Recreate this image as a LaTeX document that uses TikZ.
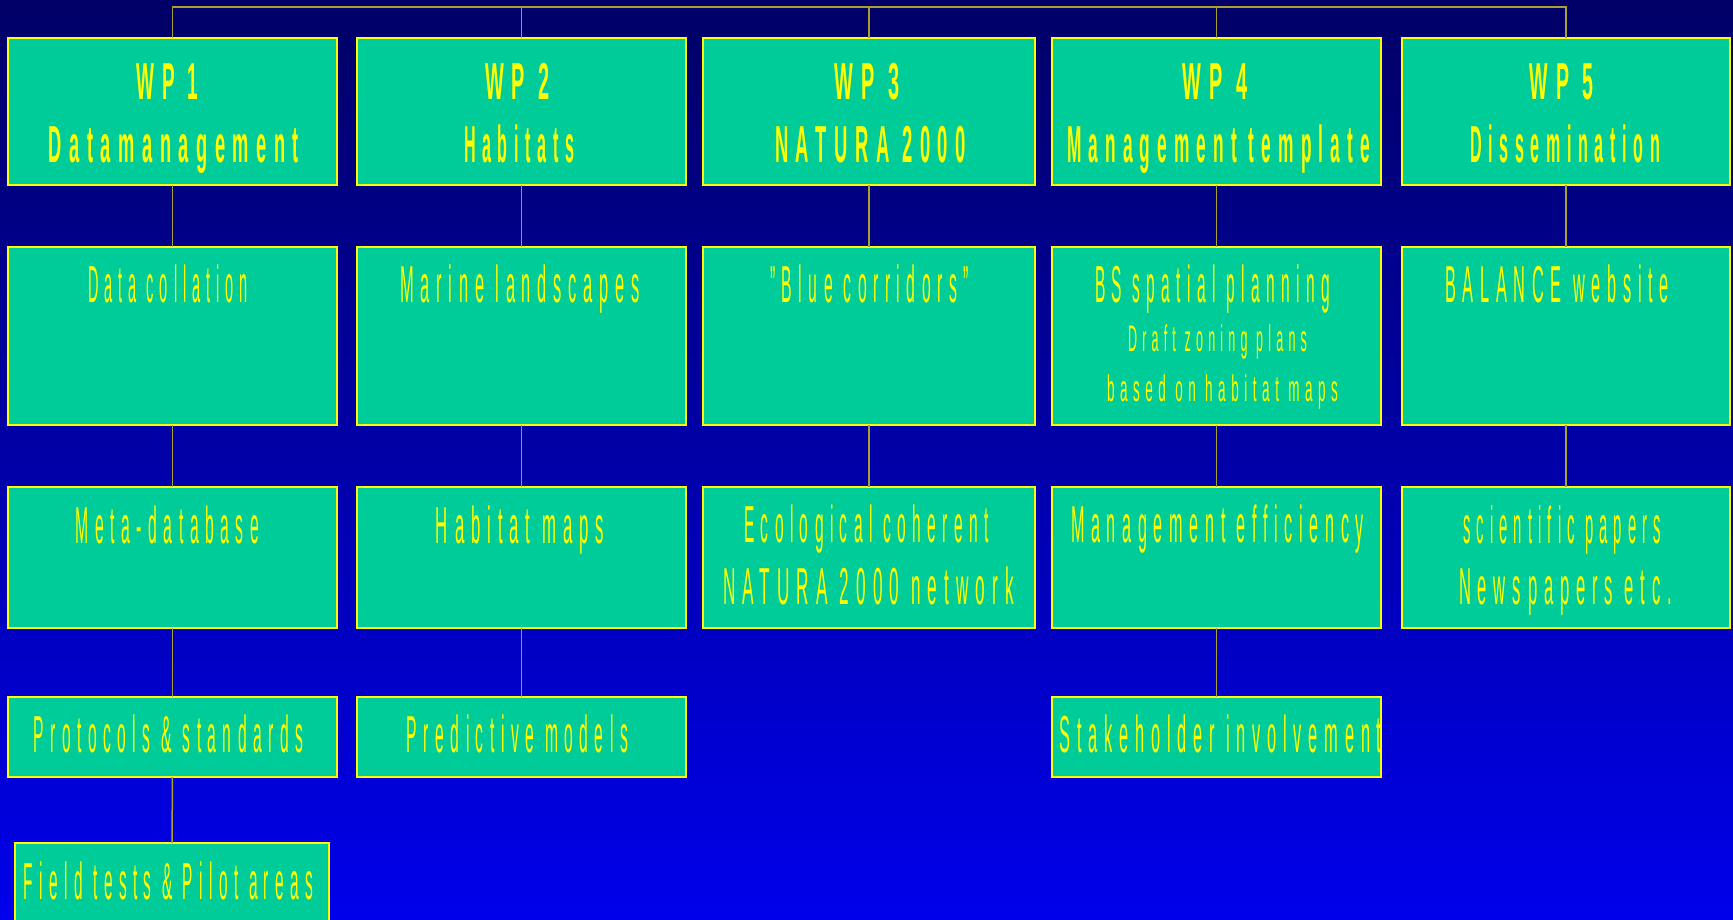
\documentclass[tikz,border=0pt]{standalone}
\usepackage{fontspec}
\usepackage{graphicx}
\setmainfont{Liberation Sans}[FakeStretch=0.34,LetterSpace=14]
\definecolor{boxfill}{RGB}{0,204,153}
\definecolor{txt}{RGB}{255,255,0}
\definecolor{conn}{RGB}{170,160,50}
\definecolor{bgtop}{RGB}{0,0,102}
\definecolor{bgbot}{RGB}{0,0,235}
\newcommand\fitw[2]{\resizebox{#1pt}{\height}{#2}}
\begin{document}
\begin{tikzpicture}[x=1pt,y=-1pt,
  wpbox/.style={draw=txt, line width=1.5pt, fill=boxfill, rectangle, inner sep=0pt, outer sep=0pt},
  link/.style={draw=conn, line width=1.5pt},
  hd/.style={anchor=base, inner sep=0pt, text=txt, font=\fontsize{52}{60}\selectfont\bfseries},
  tx/.style={anchor=base, inner sep=0pt, text=txt, font=\fontsize{52}{60}\selectfont},
  sm/.style={anchor=base, inner sep=0pt, text=txt, font=\fontsize{37}{44}\selectfont}]
\clip (0,0) rectangle (1733,919);
\shade[top color=bgtop, bottom color=bgbot] (0,0) rectangle (1733,919);
% boxes
% row 1
\node[wpbox, minimum width=329, minimum height=147] (h1) at (172.5,111.5) {};
\node[wpbox, minimum width=329, minimum height=147] (h2) at (521.5,111.5) {};
\node[wpbox, minimum width=332, minimum height=147] (h3) at (869,111.5) {};
\node[wpbox, minimum width=329, minimum height=147] (h4) at (1216.5,111.5) {};
\node[wpbox, minimum width=328, minimum height=147] (h5) at (1566,111.5) {};
% row 2
\node[wpbox, minimum width=329, minimum height=178] (a1) at (172.5,336) {};
\node[wpbox, minimum width=329, minimum height=178] (a2) at (521.5,336) {};
\node[wpbox, minimum width=332, minimum height=178] (a3) at (869,336) {};
\node[wpbox, minimum width=329, minimum height=178] (a4) at (1216.5,336) {};
\node[wpbox, minimum width=328, minimum height=178] (a5) at (1566,336) {};
% row 3
\node[wpbox, minimum width=329, minimum height=141] (b1) at (172.5,557.5) {};
\node[wpbox, minimum width=329, minimum height=141] (b2) at (521.5,557.5) {};
\node[wpbox, minimum width=332, minimum height=141] (b3) at (869,557.5) {};
\node[wpbox, minimum width=329, minimum height=141] (b4) at (1216.5,557.5) {};
\node[wpbox, minimum width=328, minimum height=141] (b5) at (1566,557.5) {};
% row 4
\node[wpbox, minimum width=329, minimum height=80] (c1) at (172.5,737) {};
\node[wpbox, minimum width=329, minimum height=80] (c2) at (521.5,737) {};
\node[wpbox, minimum width=329, minimum height=80] (c4) at (1216.5,737) {};
% row 5
\node[wpbox, minimum width=314, minimum height=92] (d1) at (172,889) {};
% connectors
\coordinate (bus) at (0,7);
\draw[link] (h1.north) -- (h1.north |- bus) -- (h5.north |- bus) -- (h5.north);
\foreach \n in {h2,h3,h4} \draw[link] (\n.north) -- (\n.north |- bus);
\foreach \n in {1,2,3,4,5} \draw[link] (h\n.south) -- (a\n.north);
\foreach \n in {1,2,3,4,5} \draw[link] (a\n.south) -- (b\n.north);
\foreach \n in {1,2,4} \draw[link] (b\n.south) -- (c\n.north);
\draw[link] (c1.south) -- (d1.north);
% header texts
\node[hd] (t1a) at (167.5,99) {\fitw{62}{WP 1}};
\node[hd] (t1b) at (174,162) {\fitw{250}{Datamanagement}};
\node[hd] (t2a) at (517.5,99) {\fitw{65}{WP 2}};
\node[hd] (t2b) at (519,162) {\fitw{110}{Habitats}};
\node[hd] (t3a) at (867,99) {\fitw{65}{WP 3}};
\node[hd] (t3b) at (870.5,162) {\fitw{191}{NATURA 2000}};
\node[hd] (t4a) at (1215,99) {\fitw{65}{WP 4}};
\node[hd] (t4b) at (1218.5,162) {\fitw{303}{Management template}};
\node[hd] (t5a) at (1561.5,99) {\fitw{64}{WP 5}};
\node[hd] (t5b) at (1565,162) {\fitw{190}{Dissemination}};
% row 2 texts
\node[tx] (u1) at (168,302) {\fitw{160}{Data collation}};
\node[tx] (u2) at (520,302) {\fitw{240}{Marine landscapes}};
\node[tx] (u3) at (869.5,302) {\fitw{199}{"Blue corridors"}};
\node[tx] (u4) at (1212.5,302) {\fitw{235}{BS spatial planning}};
\node[sm] (u4b) at (1217.5,351) {\fitw{179}{Draft zoning plans}};
\node[sm] (u4c) at (1222.5,401) {\fitw{231}{based on habitat maps}};
\node[tx] (u5) at (1557,302) {\fitw{224}{BALANCE website}};
% row 3 texts
\node[tx] (v1) at (167.5,543) {\fitw{183}{Meta-database}};
\node[tx] (v2) at (520,543) {\fitw{168}{Habitat maps}};
\node[tx] (v3) at (866.5,542) {\fitw{245}{Ecological coherent}};
\node[tx] (v3b) at (868.5,604) {\fitw{291}{NATURA 2000 network}};
\node[tx] (v4) at (1217.5,542) {\fitw{293}{Management efficiency}};
\node[tx] (v5) at (1562,543) {\fitw{198}{scientific papers}};
\node[tx] (v5b) at (1565.5,604) {\fitw{213}{Newspapers etc.}};
% row 4 texts
\node[tx] (w1) at (168.5,752) {\fitw{269}{Protocols \& standards}};
\node[tx] (w2) at (517.5,752) {\fitw{221}{Predictive models}};
\node[tx] (w4) at (1220.5,752) {\fitw{322}{Stakeholder involvement}};
% row 5 text
\node[tx] (x1) at (168.5,899) {\fitw{289}{Field tests \& Pilot areas}};
\end{tikzpicture}
\end{document}
